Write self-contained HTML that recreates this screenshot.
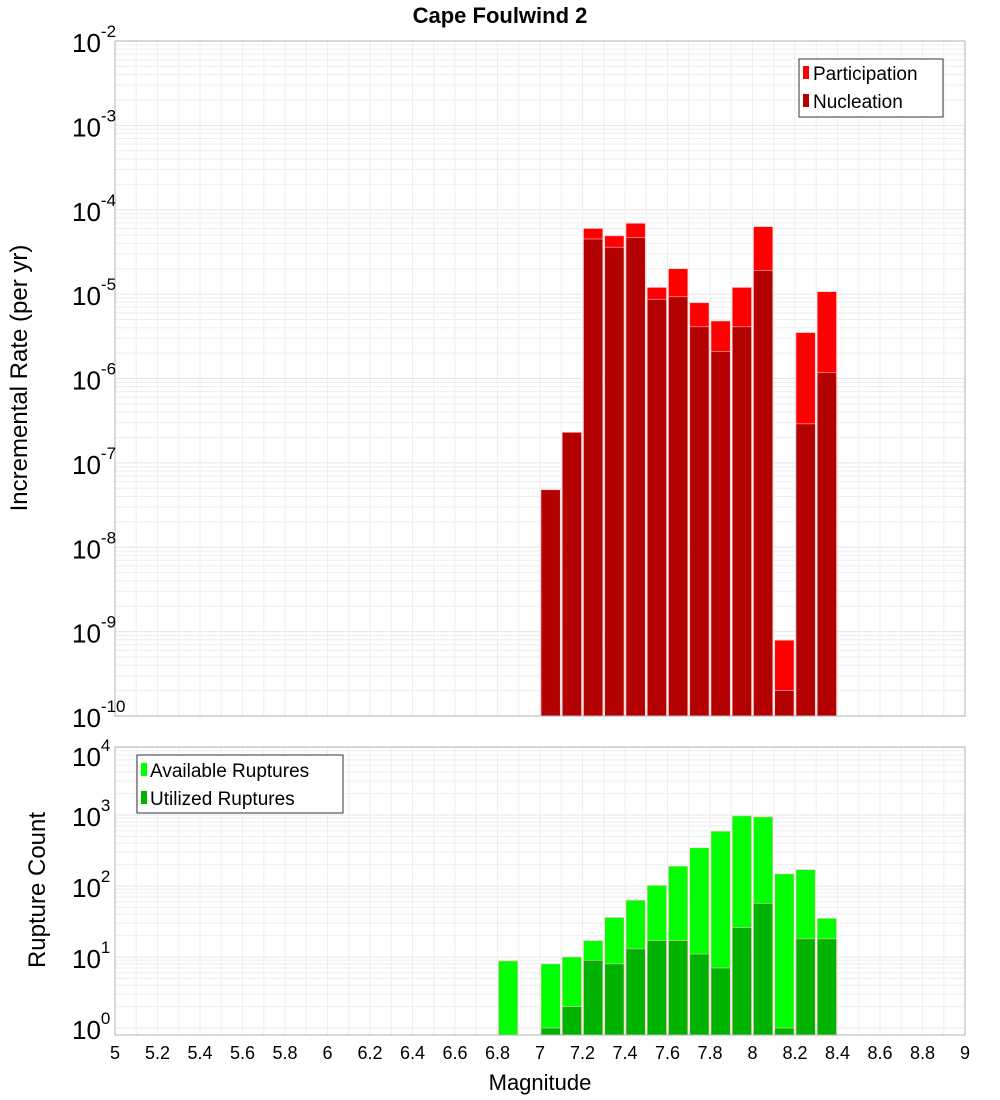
<!DOCTYPE html>
<html><head><meta charset="utf-8"><style>
body{margin:0;background:#fff;}
svg{display:block;font-family:"Liberation Sans","DejaVu Sans",sans-serif;}
</style></head><body>
<svg id="chart" width="1000" height="1100" viewBox="0 0 1000 1100" xmlns="http://www.w3.org/2000/svg">
<text x="500" y="23" text-anchor="middle" font-size="22" font-weight="bold">Cape Foulwind 2</text>
<g id="topg"></g><g id="botg"></g>
<text transform="translate(27,378) rotate(-90)" text-anchor="middle" font-size="24">Incremental Rate (per yr)</text>
<text transform="translate(45,890) rotate(-90)" text-anchor="middle" font-size="24">Rupture Count</text>
<text x="540" y="1090" text-anchor="middle" font-size="22">Magnitude</text>
</svg>
<script>
const mags=[7.05,7.15,7.25,7.35,7.45,7.55,7.65,7.75,7.85,7.95,8.05,8.15,8.25,8.35];
const participation=[4.8e-8,2.3e-7,6e-5,4.9e-5,6.9e-5,1.2e-5,2.0e-5,7.9e-6,4.8e-6,1.2e-5,6.3e-5,7.9e-10,3.5e-6,1.07e-5];
const nucleation=[4.8e-8,2.3e-7,4.5e-5,3.6e-5,4.7e-5,8.7e-6,9.3e-6,4.1e-6,2.1e-6,4.1e-6,1.9e-5,2e-10,2.9e-7,1.17e-6];
const countMags=[6.85,7.05,7.15,7.25,7.35,7.45,7.55,7.65,7.75,7.85,7.95,8.05,8.15,8.25,8.35];
const available=[8.8,8,10,17,36,63,102,190,345,590,970,940,148,170,35];
const utilized=[0,1,2,9,8,13,17,17,11,7,26,57,1,18,18];
const xTicks=[5,5.2,5.4,5.6,5.8,6,6.2,6.4,6.6,6.8,7,7.2,7.4,7.6,7.8,8,8.2,8.4,8.6,8.8,9];
const topExps=[-2,-3,-4,-5,-6,-7,-8,-9,-10];
const botExps=[4,3,2,1,0];

const NS="http://www.w3.org/2000/svg";
const L=115,R=965;
const xs=m=>L+(m-5)*(R-L)/4;
const T0=41,T1=716, yTop=v=>T0+(-2-Math.log10(v))*(T1-T0)/8;
const B0=747,B1=1035, yBot=v=>744+(4-Math.log10(v))*71;
function mk(p,tag,a,name,txt){const e=document.createElementNS(NS,tag);for(const k in a)e.setAttribute(k,a[k]);


if(txt!==undefined)e.textContent=txt;p.appendChild(e);return e;}
function grid(g,y0,y1,yf,exps,pref){
 mk(g,'rect',{x:L,y:y0,width:R-L,height:y1-y0,fill:'#fff'},pref+'-plot-area');
 for(let i=0;i<exps.length-1;i++){const lo=Math.min(exps[i],exps[i+1]);
  for(let k=2;k<10;k++){const yy=yf(k*Math.pow(10,lo));if(yy>y0&&yy<y1)mk(g,'line',{x1:L,x2:R,y1:yy,y2:yy,stroke:'#eeeeee','stroke-width':1},pref+'-minor-grid');}}
 exps.forEach(e=>{const yy=yf(Math.pow(10,e));if(yy>=y0&&yy<=y1)mk(g,'line',{x1:L,x2:R,y1:yy,y2:yy,stroke:'#e4e4e4','stroke-width':1},pref+'-major-grid');});
 for(let i=0;i<=40;i++){const m=5+i*0.1;mk(g,'line',{x1:xs(m),x2:xs(m),y1:y0,y2:y1,stroke:'#eeeeee','stroke-width':1},pref+'-x-grid');}
}
function axisLabels(g,yf,exps,pref,clampY){
 exps.forEach(e=>{let yy=yf(Math.pow(10,e));if(clampY)yy=clampY(yy);
  const t=mk(g,'text',{x:72,y:yy+11,'font-size':26},pref+'-y-tick-label');
  t.appendChild(document.createTextNode('10'));
  const s=document.createElementNS(NS,'tspan');s.setAttribute('dy','-15');s.setAttribute('font-size','17');s.textContent=String(e);t.appendChild(s);});
}
function bars(g,ms,vals,yf,base,color,name){
 ms.forEach((m,i)=>{if(vals[i]<=0)return;const yy=yf(vals[i]);
  mk(g,'rect',{x:xs(m-0.05)+1,y:yy,width:(R-L)/40-2,height:base-yy,fill:color,stroke:'#ffc0c0','stroke-width':0.6},name);});
}
const topG=document.getElementById('topg');
grid(topG,T0,T1,yTop,topExps,'top');
bars(topG,mags,participation,yTop,T1,'#ff0000','participation-bar');
bars(topG,mags,nucleation,yTop,T1,'#b30000','nucleation-bar');
mk(topG,'rect',{x:L,y:T0,width:R-L,height:T1-T0,fill:'none',stroke:'#b0b0b0'},'top-plot-border');
axisLabels(topG,yTop,topExps,'top');
const lg=mk(topG,'g',{},'top-legend');
mk(lg,'rect',{x:799,y:59,width:144,height:58,fill:'#fff',stroke:'#333'},'top-legend-box');
mk(lg,'rect',{x:803,y:66,width:6,height:13,fill:'#ff0000'},'legend-swatch-participation');
mk(lg,'text',{x:813,y:80,'font-size':19},'legend-entry-participation','Participation');
mk(lg,'rect',{x:803,y:94,width:6,height:13,fill:'#b30000'},'legend-swatch-nucleation');
mk(lg,'text',{x:813,y:108,'font-size':19},'legend-entry-nucleation','Nucleation');
const botG=document.getElementById('botg');
grid(botG,B0,B1,yBot,botExps,'bottom');
bars(botG,countMags,available,yBot,B1,'#00ff00','available-bar');
bars(botG,countMags,utilized,yBot,B1,'#00b300','utilized-bar');
mk(botG,'rect',{x:L,y:B0,width:R-L,height:B1-B0,fill:'none',stroke:'#b0b0b0'},'bottom-plot-border');
axisLabels(botG,yBot,botExps,'bottom',yy=>Math.max(yy,755));
const lb=mk(botG,'g',{},'bottom-legend');
mk(lb,'rect',{x:137,y:755,width:206,height:58,fill:'#fff',stroke:'#333'},'bottom-legend-box');
mk(lb,'rect',{x:141,y:763,width:6,height:13,fill:'#00ff00'},'legend-swatch-available');
mk(lb,'text',{x:150,y:777,'font-size':19},'legend-entry-available','Available Ruptures');
mk(lb,'rect',{x:141,y:791,width:6,height:13,fill:'#00b300'},'legend-swatch-utilized');
mk(lb,'text',{x:150,y:805,'font-size':19},'legend-entry-utilized','Utilized Ruptures');
xTicks.forEach(t=>{mk(botG,'text',{x:xs(t),y:1059,'text-anchor':'middle','font-size':18},'x-tick-label',String(t));});
</script>
</body></html>
